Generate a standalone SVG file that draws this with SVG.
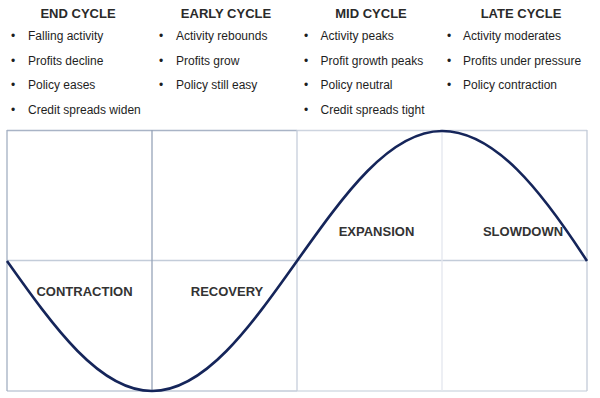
<svg xmlns="http://www.w3.org/2000/svg" width="600" height="398" viewBox="0 0 600 398">
<style>
.hd{font-family:"Liberation Sans",Arial,sans-serif;font-size:13px;font-weight:bold;fill:#2a2a2a;text-anchor:middle}
.bl{font-family:"Liberation Sans",Arial,sans-serif;font-size:12px;fill:#1e1e1e}
.ph{font-family:"Liberation Sans",Arial,sans-serif;font-size:13px;font-weight:bold;fill:#333;text-anchor:middle}
.g{fill:none;stroke-width:1.3}
</style>
<rect width="600" height="398" fill="#fff"/>
<g id="grid">
  <line class="g" x1="7" y1="130.5" x2="297" y2="130.5" stroke="#a9b4c6"/>
  <line class="g" x1="297" y1="130.5" x2="587" y2="130.5" stroke="#cdd4df"/>
  <line class="g" x1="7" y1="391" x2="297" y2="391" stroke="#c3cbd8"/>
  <line class="g" x1="297" y1="391" x2="587" y2="391" stroke="#d6dce5"/>
  <line class="g" x1="7" y1="260.5" x2="587" y2="260.5" stroke="#c3ccd9" stroke-width="2.2"/>
  <line class="g" x1="7" y1="130" x2="7" y2="391" stroke="#a3afc2"/>
  <line class="g" x1="152" y1="130" x2="152" y2="391" stroke="#97a4b9"/>
  <line class="g" x1="297" y1="130" x2="297" y2="391" stroke="#c6cedb"/>
  <line class="g" x1="442" y1="130" x2="442" y2="391" stroke="#e3e7ee"/>
  <line class="g" x1="587" y1="130" x2="587" y2="391" stroke="#c3cbd8"/>
</g>
<g id="connectors">
  <path d="M7,261 C54.3,327.6 99.5,391 152,391 C204.5,391 249.7,327.6 297,261 C344.3,194.4 389.5,131 442,131 C494.5,131 541,190 587,261" fill="none" stroke="#15255a" stroke-width="2.6"/>
</g>
<g id="end-cycle">
  <text class="hd" x="78" y="18">END CYCLE</text>
  <text class="bl" x="11" y="40">•</text><text class="bl" x="28" y="40">Falling activity</text>
  <text class="bl" x="11" y="64.5">•</text><text class="bl" x="28" y="64.5">Profits decline</text>
  <text class="bl" x="11" y="89">•</text><text class="bl" x="28" y="89">Policy eases</text>
  <text class="bl" x="11" y="113.5">•</text><text class="bl" x="28" y="113.5">Credit spreads widen</text>
</g>
<g id="early-cycle">
  <text class="hd" x="226" y="18">EARLY CYCLE</text>
  <text class="bl" x="159" y="40">•</text><text class="bl" x="176" y="40">Activity rebounds</text>
  <text class="bl" x="159" y="64.5">•</text><text class="bl" x="176" y="64.5">Profits grow</text>
  <text class="bl" x="159" y="89">•</text><text class="bl" x="176" y="89">Policy still easy</text>
</g>
<g id="mid-cycle">
  <text class="hd" x="371" y="18">MID CYCLE</text>
  <text class="bl" x="304" y="40">•</text><text class="bl" x="320.5" y="40">Activity peaks</text>
  <text class="bl" x="304" y="64.5">•</text><text class="bl" x="320.5" y="64.5">Profit growth peaks</text>
  <text class="bl" x="304" y="89">•</text><text class="bl" x="320.5" y="89">Policy neutral</text>
  <text class="bl" x="304" y="113.5">•</text><text class="bl" x="320.5" y="113.5">Credit spreads tight</text>
</g>
<g id="late-cycle">
  <text class="hd" x="521" y="18">LATE CYCLE</text>
  <text class="bl" x="447" y="40">•</text><text class="bl" x="463" y="40">Activity moderates</text>
  <text class="bl" x="447" y="64.5">•</text><text class="bl" x="463" y="64.5">Profits under pressure</text>
  <text class="bl" x="447" y="89">•</text><text class="bl" x="463" y="89">Policy contraction</text>
</g>
<g id="contraction"><text class="ph" x="84.5" y="295.5">CONTRACTION</text></g>
<g id="recovery"><text class="ph" x="227" y="295.5">RECOVERY</text></g>
<g id="expansion"><text class="ph" x="376.5" y="236">EXPANSION</text></g>
<g id="slowdown"><text class="ph" x="523" y="236">SLOWDOWN</text></g>
</svg>
